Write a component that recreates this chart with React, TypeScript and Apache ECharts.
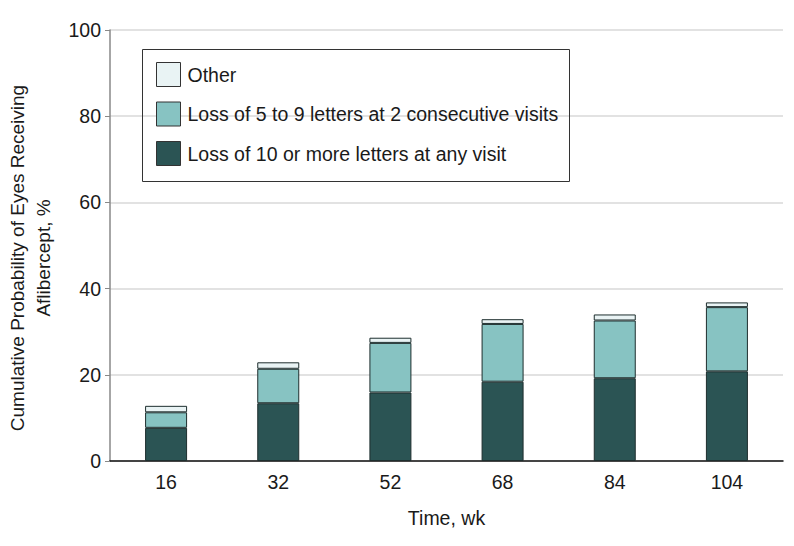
import React, { useEffect, useRef } from "react";
import * as echarts from "echarts";

const categories = ["16", "32", "52", "68", "84", "104"];
const loss10 = [7.7, 13.4, 15.9, 18.4, 19.2, 20.8];
const loss5to9 = [3.6, 8.0, 11.5, 13.4, 13.4, 14.9];
const other = [1.5, 1.5, 1.2, 1.1, 1.4, 1.1];
const yTicks = [0, 20, 40, 60, 80, 100];

const NAME_OTHER = "Other";
const NAME_5_9 = "Loss of 5 to 9 letters at 2 consecutive visits";
const NAME_10 = "Loss of 10 or more letters at any visit";

const FONT = "Liberation Sans";

export default function App() {
  const ref = useRef<HTMLDivElement>(null);
  useEffect(() => {
    if (!ref.current) return;
    const chart = echarts.init(ref.current, undefined, { renderer: "svg" });
    const border = { borderColor: "#1e2e2e", borderWidth: 1 };
    chart.setOption({
      animation: false,
      backgroundColor: "#ffffff",
      textStyle: { fontFamily: FONT },
      grid: { left: 110, right: 11, top: 30, bottom: 85, containLabel: false },
      legend: {
        orient: "vertical",
        left: 156,
        top: 62,
        padding: 0,
        itemWidth: 24,
        itemHeight: 24,
        itemGap: 14.5,
        icon: "rect",
        data: [NAME_OTHER, NAME_5_9, NAME_10],
        textStyle: { fontFamily: FONT, fontSize: 19.5, color: "#1a1a1a", padding: [0, 0, 0, 2] },
        itemStyle: { borderColor: "#333", borderWidth: 1 },
      },
      graphic: [
        {
          type: "rect",
          shape: { x: 142.5, y: 49.5, width: 427, height: 132 },
          style: { fill: "none", stroke: "#333", lineWidth: 1 },
          z: 10,
        },
        {
          type: "text",
          x: 30,
          y: 258,
          rotation: Math.PI / 2,
          style: {
            text: "Cumulative Probability of Eyes Receiving\nAflibercept, %",
            fontFamily: FONT,
            fontSize: 19,
            lineHeight: 26,
            fill: "#1a1a1a",
            align: "center",
            verticalAlign: "middle",
          },
        },
      ],
      xAxis: {
        type: "category",
        data: categories,
        name: "Time, wk",
        nameLocation: "middle",
        nameGap: 47,
        nameTextStyle: { fontFamily: FONT, fontSize: 19.5, color: "#1a1a1a" },
        axisLine: { show: true, lineStyle: { color: "#111", width: 1.5 } },
        axisTick: { show: false },
        axisLabel: { fontFamily: FONT, fontSize: 19.5, color: "#1a1a1a", margin: 11 },
      },
      yAxis: {
        type: "value",
        min: 0,
        max: 100,
        interval: 20,
        axisLine: { show: true, lineStyle: { color: "#888", width: 1.5 } },
        axisTick: { show: true, inside: false, length: 5, lineStyle: { color: "#888" } },
        axisLabel: {
          fontFamily: FONT,
          fontSize: 19.5,
          color: "#1a1a1a",
          margin: 9,
          formatter: (v: number) => (yTicks.includes(v) ? String(v) : ""),
        },
        splitLine: { show: true, lineStyle: { color: "#d9d9d9", width: 1.5 } },
      },
      series: [
        {
          name: NAME_10,
          type: "bar",
          stack: "total",
          barWidth: 42,
          data: loss10,
          itemStyle: { color: "#2b5454", ...border },
        },
        {
          name: NAME_5_9,
          type: "bar",
          stack: "total",
          barWidth: 42,
          data: loss5to9,
          itemStyle: { color: "#87c3c2", ...border },
        },
        {
          name: NAME_OTHER,
          type: "bar",
          stack: "total",
          barWidth: 42,
          data: other,
          itemStyle: { color: "#e9f3f4", ...border },
        },
      ],
    });
    return () => chart.dispose();
  }, []);
  return <div ref={ref} style={{ width: 794, height: 546, position: "absolute", left: 0, top: 0 }} />;
}
